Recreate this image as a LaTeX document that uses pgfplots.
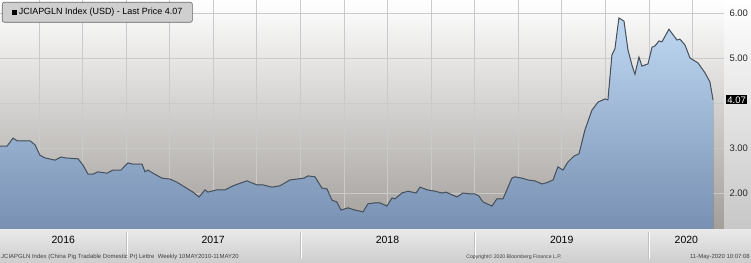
\documentclass[border=0pt]{standalone}
\usepackage{pgfplots}
\pgfplotsset{compat=1.18}
\usepackage{pgfplotstable}
\usepgfplotslibrary{fillbetween}
\usepackage{fontspec}
\setmainfont{Liberation Sans}
\definecolor{bgbot}{HTML}{A29E9A}
\definecolor{fillTop}{HTML}{BFD8F2}
\definecolor{fillBot}{HTML}{7890B2}
\definecolor{lineC}{HTML}{46515E}
\definecolor{gridC}{HTML}{CACACA}
\definecolor{bandTop}{HTML}{EAEAEA}
\definecolor{bandBot}{HTML}{CDCDCD}

\pgfplotstableread{
x y
2016.277 3.04
2016.317 3.04
2016.352 3.22
2016.375 3.16
2016.449 3.16
2016.478 3.07
2016.506 2.84
2016.535 2.78
2016.593 2.73
2016.627 2.80
2016.650 2.78
2016.725 2.76
2016.753 2.62
2016.782 2.42
2016.811 2.42
2016.839 2.47
2016.891 2.44
2016.925 2.51
2016.971 2.51
2017.011 2.67
2017.040 2.64
2017.092 2.64
2017.109 2.47
2017.126 2.51
2017.155 2.44
2017.206 2.33
2017.252 2.31
2017.292 2.24
2017.338 2.13
2017.384 2.02
2017.419 1.91
2017.453 2.07
2017.470 2.02
2017.522 2.07
2017.568 2.07
2017.614 2.16
2017.642 2.20
2017.694 2.27
2017.751 2.18
2017.786 2.18
2017.838 2.13
2017.883 2.16
2017.941 2.29
2018.021 2.33
2018.044 2.38
2018.084 2.36
2018.124 2.11
2018.153 2.09
2018.182 1.84
2018.210 1.80
2018.233 1.62
2018.274 1.67
2018.314 1.62
2018.360 1.58
2018.388 1.76
2018.428 1.78
2018.457 1.78
2018.497 1.71
2018.526 1.89
2018.543 1.87
2018.583 2.00
2018.618 2.04
2018.664 2.00
2018.687 2.13
2018.727 2.07
2018.773 2.04
2018.813 2.00
2018.836 2.02
2018.899 1.91
2018.933 2.00
2018.974 1.98
2019.002 1.98
2019.025 1.93
2019.048 1.80
2019.100 1.71
2019.128 1.87
2019.163 1.87
2019.214 2.33
2019.232 2.36
2019.272 2.33
2019.306 2.29
2019.346 2.27
2019.387 2.20
2019.421 2.24
2019.450 2.29
2019.478 2.58
2019.507 2.51
2019.536 2.69
2019.570 2.82
2019.599 2.87
2019.633 3.40
2019.673 3.84
2019.708 4.02
2019.748 4.09
2019.765 4.07
2019.788 5.07
2019.805 5.20
2019.828 5.89
2019.857 5.82
2019.880 5.18
2019.903 4.84
2019.920 4.64
2019.943 5.02
2019.960 4.82
2019.995 4.87
2020.018 5.24
2020.035 5.27
2020.058 5.38
2020.075 5.36
2020.115 5.64
2020.161 5.40
2020.178 5.42
2020.207 5.29
2020.236 5.00
2020.282 4.89
2020.322 4.67
2020.350 4.47
2020.368 4.07
}\pricedata

\begin{document}
\begin{tikzpicture}
\fill[top color=bandTop, bottom color=bandBot] (0bp,-34bp) rectangle (751bp,0bp);
\fill[top color=white, bottom color=black!22] (724bp,0bp) rectangle (751bp,229bp);
\begin{axis}[
  at={(0bp,0bp)}, anchor=south west,
  scale only axis, width=724bp, height=229bp,
  xmin=2016.277, xmax=2020.431, ymin=1.2, ymax=6.29,
  clip mode=individual,
  axis background/.style={top color=white, bottom color=bgbot},
  axis x line*=bottom, axis y line*=right,
  x axis line style={draw=none},
  y axis line style={draw=black!45, line width=0.6bp},
  tick align=outside,
  major tick length=3bp, minor tick length=2bp,
  xtick={2016.5,2016.75,2017,2017.25,2017.5,2017.75,2018,2018.25,2018.5,2018.75,2019,2019.25,2019.5,2019.75,2020,2020.25},
  xticklabels={},
  minor x tick num=2,
  xtick style={draw=black!60, line width=0.5bp, yshift=3bp},
  ytick={2,3,4,5,6},
  yticklabels={2.00,3.00,{},5.00,6.00},
  minor y tick num=1,
  ytick style={draw=black!60, line width=0.5bp},
  grid=major,
  major grid style={draw=gridC, line width=0.6bp},
  /pgf/number format/fixed,
  /pgf/number format/fixed zerofill,
  /pgf/number format/precision=2,
  /pgf/number format/assume math mode=true,
  yticklabel style={font=\fontsize{9.5}{10}\selectfont, text=black!85, xshift=-1bp},
  extra y ticks={4.07},
  extra y tick style={grid=none, yticklabel style={fill=black, text=white, inner sep=1.2bp}},
  extra x ticks={2016.64,2017.5,2018.5,2019.5,2020.215},
  extra x tick labels={2016,2017,2018,2019,2020},
  extra x tick style={grid=none, major tick length=0pt,
    xticklabel style={font=\fontsize{10.5}{11}\selectfont, text=black, yshift=-4bp}},
  no markers,
]
\addplot[draw=none, name path=P, forget plot] table[x=x,y=y]{\pricedata};
\addplot[draw=none, name path=B, forget plot] coordinates {(2016.277,1.2) (2020.368,1.2)};
\addplot[draw=none, top color=fillTop, bottom color=fillBot] fill between[of=P and B];
\addplot[color=lineC, line width=1bp] table[x=x,y=y]{\pricedata};
\pgfplotsinvokeforeach{2017,2018,2019,2020}{
  \draw[black!25, line width=0.8bp] (axis cs:#1,1.2) ++(0bp,-3bp) -- ++(0bp,-27bp);
  \draw[white, line width=0.6bp] (axis cs:#1,1.2) ++(0.8bp,-3bp) -- ++(0bp,-27bp);
}
\end{axis}
\node[anchor=north west, draw=black!60, line width=0.6bp, fill=black!19, rounded corners=2bp,
  minimum width=190bp, minimum height=20bp, inner sep=2bp, font=\fontsize{9}{10}\selectfont]
  at (2bp,227bp) {\rule{5bp}{5bp}\,JCIAPGLN Index (USD) - Last Price 4.07};
\node[anchor=west, font=\fontsize{6}{7}\selectfont, text=black!75, inner sep=0] at (1bp,-28bp)
  {JCIAPGLN Index (China Pig Tradable Domestic Pr) Lettre\ \ Weekly 10MAY2010-11MAY20};
\node[font=\fontsize{5.2}{6}\selectfont, text=black!75, inner sep=0] at (514bp,-28bp)
  {Copyright© 2020 Bloomberg Finance L.P.};
\node[anchor=east, font=\fontsize{6}{7}\selectfont, text=black!75, inner sep=0] at (750bp,-28bp)
  {11-May-2020 10:07:08};
\pgfresetboundingbox
\path[use as bounding box] (0bp,-34bp) rectangle (751bp,229bp);
\end{tikzpicture}
\end{document}
